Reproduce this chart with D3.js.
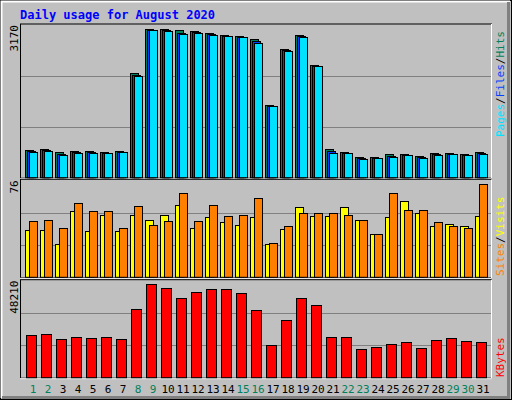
<!DOCTYPE html>
<html><head><meta charset="utf-8">
<script src="https://cdn.jsdelivr.net/npm/d3@7"></script>
<style>body{margin:0;background:#fff}</style>
</head><body><div id="chart"></div>
<script>
const days = d3.range(1, 32);
const weekend = [1, 2, 8, 9, 15, 16, 22, 23, 29, 30];
const hits = [567,588,526,547,547,526,547,2166,3080,3080,3059,3038,2997,2955,2934,2872,1502,2664,2955,2332,588,526,422,422,484,484,443,505,505,484,526];
const files = [545,566,490,525,525,515,536,2140,3070,3060,3010,3015,2975,2945,2925,2830,1495,2645,2935,2320,545,515,400,410,455,475,420,485,495,474,505];
const pages = [526,547,464,505,505,505,526,2104,3059,3038,2976,2997,2955,2934,2913,2789,1481,2623,2913,2311,505,505,381,401,422,464,401,464,484,464,484];
const sites = [37,37,26,52,36,49,36,49,45,49,57,39,47,43,41,47,26,38,55,48,48,55,45,34,47,60,50,40,42,40,48];
const visits = [44,45,39,58,52,52,39,56,41,44,66,44,57,48,49,62,27,40,50,50,50,49,45,34,66,53,53,43,40,39,73];
const kbytes = [21040,21540,19050,20050,19550,20050,19050,33960,46390,44400,39430,42410,43900,43900,41910,33460,16070,28490,39430,35950,20050,20050,14080,15080,16570,17560,14580,18550,19550,18060,17560];
const maxima = [3170, 76, 48210];

const svg = d3.select("#chart").append("svg").attr("width", 512).attr("height", 400)
  .style("font-family", "'DejaVu Sans Mono', monospace");

// outer frame with bevel
svg.append("rect").attr("x", 0.5).attr("y", 0.5).attr("width", 511).attr("height", 399).attr("fill", "#c0c0c0").attr("stroke", "#000");
svg.append("path").attr("d", "M1.5,398V1.5H510").attr("fill", "none").attr("stroke", "#fff").attr("stroke-width", 2);
svg.append("path").attr("d", "M2,397.5H508.5V2").attr("fill", "none").attr("stroke", "#808080").attr("stroke-width", 3);

svg.append("text").attr("x", 20).attr("y", 19).attr("fill", "#0000ff").attr("font-weight", "bold")
  .attr("font-size", 12).text("Daily usage for August 2020");

const x = d3.scaleLinear().domain([1, 31]).range([25, 475]);
const left = 20, right = 491;

const panels = [
  { top: 25, base: 177.7, max: maxima[0] },
  { top: 180.3, base: 277.3, max: maxima[1] },
  { top: 280.7, base: 377.7, max: maxima[2] }
];

panels.forEach(p => {
  p.y = d3.scaleLinear().domain([0, p.max]).range([p.base, p.top]);
  svg.append("rect").attr("x", left + 0.5).attr("y", p.top - 1).attr("width", right - left).attr("height", p.base - p.top + 1.5)
    .attr("fill", "none").attr("stroke", "#000");
  svg.append("path").attr("d", `M${right + 0.5},${p.top - 1}V${p.base + 1}H${left}`).attr("fill", "none").attr("stroke", "#fff");
  [1 / 3, 2 / 3].forEach(f => {
    svg.append("line").attr("x1", left + 1).attr("x2", right).attr("y1", Math.round(p.y(p.max * f)) + 0.5).attr("y2", Math.round(p.y(p.max * f)) + 0.5)
      .attr("stroke", "#808080");
  });
  svg.append("text").attr("transform", `translate(18,${p.top}) rotate(-90)`).attr("text-anchor", "end")
    .attr("font-size", 11).attr("fill", "#000").text(p.max);
});

function bars(panel, data, dx, w, color) {
  svg.append("g").selectAll("rect").data(data).join("rect")
    .attr("x", (d, i) => Math.round(x(i + 1)) + dx + 0.5)
    .attr("y", d => Math.round(panel.y(d)) + 0.5)
    .attr("width", w)
    .attr("height", d => panel.base - 0.5 - Math.round(panel.y(d)))
    .attr("fill", color).attr("stroke", "#000");
}

bars(panels[0], hits, 0, 8, "#00805c");
bars(panels[0], files, 2, 8, "#0040ff");
bars(panels[0], pages, 4, 8, "#00e0ff");
bars(panels[1], sites, 0, 8, "#ffff00");
bars(panels[1], visits, 4, 8, "#ff8000");
bars(panels[2], kbytes, 1, 10, "#ff0000");

// right-side legends
function legend(yBottom, parts) {
  const t = svg.append("text").attr("transform", `translate(504,${yBottom}) rotate(-90)`).attr("font-size", 11);
  parts.forEach(([s, c]) => t.append("tspan").attr("fill", c).text(s));
}
legend(137, [["Pages", "#00e0ff"], ["/", "#000"], ["Files", "#0040ff"], ["/", "#000"], ["Hits", "#00805c"]]);
legend(276, [["Sites", "#ff8000"], ["/", "#000"], ["Visits", "#ffff00"]]);
legend(377, [["KBytes", "#ff0000"]]);

svg.append("g").selectAll("text").data(days).join("text")
  .attr("x", d => x(d) + 8).attr("y", 393).attr("text-anchor", "middle").attr("font-size", 11)
  .attr("fill", d => weekend.includes(d) ? "#00805c" : "#000").text(d => d);
</script></body></html>
